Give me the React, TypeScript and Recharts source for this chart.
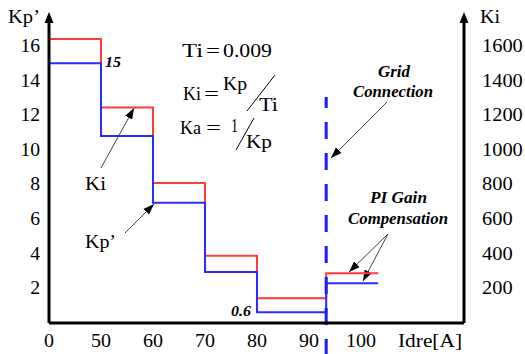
import React from 'react';
import { LineChart, Line, XAxis, YAxis, ReferenceLine } from 'recharts';

// ---- data ----
const idreTickValues = [0, 50, 60, 70, 80, 90, 100];
const xTickLabels = ['0', '50', '60', '70', '80', '90', '100'];
const stepIdre = [0, 50, 60, 70, 80, 93.3, 103.3];
const kpPrime = [15.0, 10.8, 6.95, 2.95, 0.62, 2.3, 2.3];
const kiValues = [1640, 1245, 808, 388, 143, 288, 288];
const gridConnectionIdre = 93.3;
const kpTicks = [2, 4, 6, 8, 10, 12, 14, 16];
const kiTicks = [200, 400, 600, 800, 1000, 1200, 1400, 1600];

// piecewise axis: 0..50 occupies one unit, then 10 A per unit
const toPos = (idre: number) => (idre <= 50 ? idre / 50 : 1 + (idre - 50) / 10);

const data = stepIdre.map((v, i) => ({ pos: toPos(v), kp: kpPrime[i], ki: kiValues[i] }));

const FONT = "'Liberation Serif', 'Times New Roman', Times, serif";
const RED = '#ff3a3a';
const BLUE = '#2b2bff';

const txtStyle = (size: number, bold = false, italic = false) => ({
  fontFamily: FONT,
  fontSize: size,
  fontWeight: bold ? 700 : 400,
  fontStyle: italic ? 'italic' : 'normal',
});

const LeftTick = (p: any) => {
  const s = String(p.payload.value);
  return (
    <text x={p.x} y={p.y + 6} textAnchor="end" style={txtStyle(18)} fill="#000"
      textLength={s.length * 9.8} lengthAdjust="spacingAndGlyphs">{s}</text>
  );
};
const RightTick = (p: any) => {
  const s = String(p.payload.value);
  return (
    <text x={p.x} y={p.y + 6} textAnchor="start" style={txtStyle(18)} fill="#000"
      textLength={s.length * 10.2} lengthAdjust="spacingAndGlyphs">{s}</text>
  );
};
const BottomTick = (p: any) => {
  const s = xTickLabels[p.index] ?? '';
  return (
    <text x={p.x} y={p.y + 13} textAnchor="middle" style={txtStyle(18)} fill="#000"
      textLength={s.length * 10} lengthAdjust="spacingAndGlyphs">{s}</text>
  );
};

const T = ({ x, y, w, s, size = 18, bold = false, italic = false }: any) => (
  <text x={x} y={y} style={txtStyle(size, bold, italic)} fill="#000"
    textLength={w} lengthAdjust="spacingAndGlyphs">{s}</text>
);

const Arrow = ({ x1, y1, x2, y2 }: any) => (
  <line x1={x1} y1={y1} x2={x2} y2={y2} stroke="#444" strokeWidth={1} markerEnd="url(#ahead)" />
);

export default function App() {
  return (
    <div style={{ position: 'absolute', left: 0, top: 0, width: 525, height: 354, background: '#fff' }}>
      <LineChart width={525} height={354} data={data} margin={{ top: 20, right: 0, bottom: 0, left: 0 }}>
        <defs>
          <marker id="ahead" markerWidth="11" markerHeight="8" refX="11" refY="4" orient="auto" markerUnits="userSpaceOnUse">
            <path d="M0,0 L11,4 L0,8 Z" fill="#000" />
          </marker>
        </defs>
        <XAxis dataKey="pos" type="number" domain={[0, 7.98]} ticks={idreTickValues.map(toPos)}
          height={31} tickLine={false} tickMargin={5} axisLine={{ stroke: '#000', strokeWidth: 3 }}
          tick={<BottomTick />} interval={0} allowDataOverflow />
        <YAxis yAxisId="left" orientation="left" width={49} domain={[0, 17.5]} ticks={kpTicks}
          tickLine={false} tickMargin={3} axisLine={{ stroke: '#000', strokeWidth: 3 }} tick={<LeftTick />} interval={0} />
        <YAxis yAxisId="right" orientation="right" width={61} domain={[0, 1750]} ticks={kiTicks}
          tickLine={false} tickMargin={12} axisLine={{ stroke: '#000', strokeWidth: 3 }} tick={<RightTick />} interval={0} />
        <Line yAxisId="right" dataKey="ki" type="stepAfter" stroke={RED} strokeWidth={2} dot={false} isAnimationActive={false} />
        <Line yAxisId="left" dataKey="kp" type="stepAfter" stroke={BLUE} strokeWidth={2} dot={false} isAnimationActive={false} />
        <ReferenceLine yAxisId="left" ifOverflow="visible"
          segment={[{ x: toPos(gridConnectionIdre), y: 13.05 }, { x: toPos(gridConnectionIdre), y: -1.8 }]}
          stroke="#1a1aff" strokeWidth={3} strokeDasharray="17 14" strokeDashoffset={6} />

        {/* axis arrow heads */}
        <polygon points="49,12 44.5,23 53.5,23" fill="#000" />
        <polygon points="464,12 459.5,23 468.5,23" fill="#000" />

        {/* axis titles */}
        <T x={8} y={23} w={32} s="Kp’" size={19} />
        <T x={480} y={23} w={20} s="Ki" size={19} />
        <T x={398} y={347} w={64} s="Idre[A]" size={19} />

        {/* value notes */}
        <T x={105} y={67} w={16} s="15" size={15} bold italic />
        <T x={231} y={316} w={20} s="0.6" size={14} bold italic />

        {/* formulas */}
        <T x={182} y={57} w={21} s="Ti" size={18} />
        <T x={206} y={57} w={14} s="=" size={18} />
        <T x={223} y={57} w={49} s="0.009" size={18} />
        <T x={183} y={100} w={18} s="Ki" size={19} />
        <T x={204} y={100} w={15} s="=" size={19} />
        <T x={223} y={90} w={24} s="Kp" size={19} />
        <line x1={275} y1={75} x2={247} y2={111} stroke="#000" strokeWidth={1} />
        <T x={259} y={111} w={19} s="Ti" size={19} />
        <T x={180} y={134} w={21} s="Ka" size={19} />
        <T x={206} y={134} w={15} s="=" size={19} />
        <T x={231} y={132} w={7} s="1" size={19} />
        <line x1={254} y1={118} x2={236} y2={150} stroke="#000" strokeWidth={1} />
        <T x={246} y={148} w={26} s="Kp" size={19} />

        {/* series labels */}
        <T x={85} y={190} w={21} s="Ki" size={19} />
        <Arrow x1={101} y1={168} x2={134} y2={108} />
        <T x={85} y={248} w={31} s="Kp’" size={19} />
        <Arrow x1={125} y1={233} x2={154} y2={204} />

        {/* Grid connection */}
        <T x={378} y={77} w={32} s="Grid" size={16} bold italic />
        <T x={353} y={97} w={80} s="Connection" size={16} bold italic />
        <Arrow x1={387} y1={102} x2={331} y2={158} />

        {/* PI gain compensation */}
        <T x={370} y={203} w={57} s="PI Gain" size={16} bold italic />
        <T x={348} y={224} w={100} s="Compensation" size={16} bold italic />
        <Arrow x1={388} y1={234} x2={349} y2={272} />
        <Arrow x1={388} y1={234} x2={363} y2={281} />
      </LineChart>
    </div>
  );
}
